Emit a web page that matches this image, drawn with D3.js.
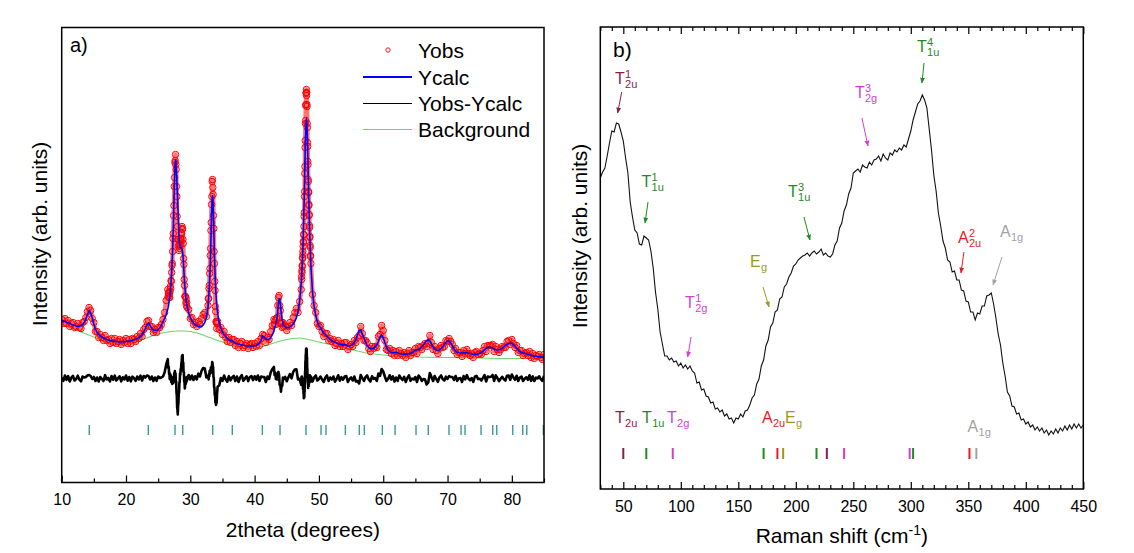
<!DOCTYPE html>
<html>
<head>
<meta charset="utf-8">
<script src="https://cdn.jsdelivr.net/npm/d3@7/dist/d3.min.js"></script>
<style>
html,body{margin:0;padding:0;background:#fff;}
svg{display:block;font-family:Arial,"Liberation Sans",Helvetica,sans-serif;}
</style>
</head>
<body>
<svg id="chart" width="1134" height="553"></svg>
<script>
// ================= DATA : panel a) XRD Rietveld refinement =================
// 2theta sampling: [start, end, step] (finer steps across the strong reflections)
const gridSegments = [[10,26.25,0.25],[26.5,29.45,0.05],[29.5,32.75,0.25],[32.8,34.15,0.05],[34.25,43,0.25],[43.1,44.5,0.1],[44.75,47.25,0.25],[47.3,48.7,0.025],[48.75,85,0.25]];

const yCalc = [
// 10.00 - 26.25
162,161.5,161,160.3,159.6,159,158.2,157.5,157,156.5,156.2,156.2,156.8,158,160,163.5,168,171.5,169.5,164.5,158.5,153.5,150,148,146.5,145.5,144.5,143.7,143,142.5,142,141.6,141.3,141.1,141,140.9,140.8,140.8,140.8,140.9,141,141.2,141.5,141.8,142.2,142.7,143.3,144,145,146.2,148,150.5,154,158,159.5,157,154,152.5,152,152.3,153,154.5,157,161,164,168,
// 26.50 - 29.45
173.7,175.1,176.8,178.6,180.6,182.9,185.4,188.4,191.7,195.5,199.8,204.7,210.4,216.9,224.4,233,242.7,253.5,265.4,278,290.6,302.6,312.6,319.5,322.8,321.4,315.9,310,303,295,287,279,270,261,253,246,241,238,236,234.5,234.5,234.5,234.5,234,233.5,232.5,230.5,227.5,223,218,212,206,200.5,196,192,188.5,185.5,183,180.5,178.5,
// 29.50 - 32.75
176.5,169.5,165,162,159.5,157.8,156.8,156.2,156,156.3,157.5,160,165,175,
// 32.80 - 34.15
181,185,189.5,195,201.5,209.5,218.5,229,241,253.5,266,277,284.5,287.5,284.5,276.5,265.5,253,240,228,217.5,208,200,193,187.5,182.5,178.5,175,
// 34.25 - 43.00
169,160,154.5,150.5,148,146,144.2,142.7,141.8,142,140.3,139.5,139,138.5,138,137.6,137.3,137,136.8,136.6,136.5,136.5,136.6,136.8,137.2,138,139.5,142,146.5,145.5,143.5,143,143.5,145,147.5,151.5,
// 43.1 - 44.5
154.4,156.1,158.4,161.6,166,171.8,178.4,183.3,183.5,178.7,172.2,166.5,162.2,159,156.9,
// 44.75 - 47.25
155.4,154.7,154.8,155.6,156.8,158.4,161,164.9,171,181.4,199.4,
// 47.300 - 48.700
204.2,207.1,210.1,213.5,217,220.7,224.8,229,233.6,238.5,243.6,249.2,255,261.2,267.8,274.5,281.6,289,296.5,304.3,312,319.8,327.4,334.7,341.4,347.4,352.9,357.2,360.4,362.3,363,362.5,360.8,358.1,354.6,350.2,345,339.2,333,326.4,319.5,312.4,305.3,298.2,291.3,284.4,277.8,271.4,265.2,259.3,253.3,248,242.9,238.1,233.5,229.2,225.1,
// 48.75 - 85.00
217,191,176,167,161,156.5,155,152,149.5,148,146,144.5,143,142,141,140.2,139.5,138.8,138.2,137.6,137.2,138,137.5,136.5,136.5,137,138,140,143,147.5,152,152.5,148.5,144.5,140.5,137,135,134,133.8,134.3,135.5,137.5,141,145.5,147.5,145,140,135.5,132.5,130.8,130,129.8,130,130,129.5,129,128.7,128.5,128.4,128.4,128.5,128.8,129.3,130,131,132.5,132.5,133,134,135.5,137.5,140,142,143,141.5,138.5,135.5,133.5,132.5,132.3,132.8,134,135.8,138,140.2,141.5,141.5,139.5,136.5,133.5,131.5,130.3,129.8,129.5,129.5,129.6,129.8,129.6,129.2,128.8,128.5,128.3,128.2,128.3,128.6,129.2,130,131.3,132.7,134,135,135.5,135.3,134.5,133.5,132.8,132.5,132.7,133.3,134.3,135.7,137,138.2,139,139.3,139,138,136.3,134.3,132.5,131,130,129.5,129.2,128.8,128.3,127.8,127.3,126.9,126.5,126.2,126,125.8,125.6,125.4,125.3
];

const yObs = [
// 10.00 - 26.25
163,159,164,159,162,156,159,160,155,156,159,155,154,160,161,165,171,175,172,164,160,151,151,145,148,145,142,147,142,143,139,144,140,144,139,141,143,138,142,140,144,139,143,139,144,143,141,146,144,149,146,153,155,161,162,156,156,150,153,150,155,155,158,163,170,182,
// 26.50 - 29.45
193,186,189,190,185,189,185,191,196,194,202,201,210,217,219,231,244,249,267,277,296,305,320,322,328,318,313,296,286,266,256,243,243,236,238,232,237,234,241,238,244,242,250,249,256,253,254,243,239,224,218,203,197,186,186,186,180,184,177,180,
// 29.50 - 32.75
175,173,164,165,158,160,156,161,158,164,168,170,166,177,
// 32.80 - 34.15
184,184,194,197,209,214,227,234,252,260,278,286,301,303,295,288,267,254,231,219,201,192,176,171,161,160,154,159,
// 34.25 - 43.00
161,153,155,148,151,145,141,145,140,143,143,137,141,135,139,141,135,137,139,134,138,139,135,139,136,141,137,144,148,147,140,145,143,151,157,163,
// 43.1 - 44.5
158,162,158,164,165,177,185,187,177,172,159,160,155,160,156,
// 44.75 - 47.25
157,152,156,160,157,165,170,174,170,181,193,
// 47.300 - 48.700
206,203,212,210,217,216,225,224,231,228,236,241,240,248,248,256,266,270,286,291,309,316,335,342,359,362,377,378,390,389,393,387,390,378,376,359,355,340,336,321,318,303,301,291,290,277,278,267,268,257,255,245,246,237,235,226,227,
// 48.75 - 85.00
219,188,177,170,159,156,157,151,146,149,149,142,144,141,143,137,139,142,136,139,136,140,140,133,136,138,136,142,140,145,147,156,149,142,142,140,134,131,136,134,136,135,146,148,157,152,142,133,132,134,129,132,127,131,127,132,129,127,130,125,129,132,127,130,130,134,129,136,135,133,137,139,136,139,147,140,133,136,132,129,134,137,135,136,142,141,144,141,138,132,134,128,130,130,126,132,129,133,129,127,129,125,130,131,128,129,128,132,136,131,137,137,137,138,131,136,133,130,133,136,135,135,141,142,138,143,139,135,137,130,132,132,127,129,130,127,131,125,129,124,127,126,128,125,123,128
];

const bgTheta = [10,11,12,13,14,15,16,17,18,19,20,21,22,23,24,25,26,27,28,29,30,31,32,33,34,35,36,37,38,39,40,41,42,43,44,45,46,47,48,49,50,51,52,53,54,55,56,57,58,60,62,65,70,75,80,85];
const bgValue = [158,155.5,153,150.5,148,145.5,143,140.5,139,138.5,138.5,139.5,141.5,144,146.5,148.5,150,151,151.5,151.5,151,149.5,147.5,145,142.5,140.5,138.5,136,134.5,133.5,134,135.5,137.5,139.5,141.5,143,144,144.5,143.5,142,140.5,139,137.5,136,134.5,133,131.5,130,129,127.5,126.5,125.5,125,124.5,124,124];

const braggPositions = [14.29,23.47,27.62,28.82,33.48,36.53,41.20,43.95,47.99,50.33,51.10,54.11,56.28,57.06,59.86,61.84,65.10,67.01,70.23,72.10,72.72,75.21,77.03,77.65,80.14,81.69,82.32,84.90];
const xTicksA = [10,20,30,40,50,60,70,80];
const xMinorA = [15,25,35,45,55,65,75,85];
const legendLabels = ["Yobs","Ycalc","Yobs-Ycalc","Background"];
const diffOffset = 104;   // vertical shift of the difference curve

// ================= DATA : panel b) Raman spectrum =================
const ramanStart = 30, ramanEnd = 450, ramanStep = 2;
const ramanIntensity = [
311,317,321,333,346,358,357,366,365,357,
348,331,316,287,272,259,256,245,244,253,
251,249,238,221,197,180,157,145,133,133,
129,131,127,128,123,126,121,124,120,123,
118,116,106,107,99,100,93,92,86,87,
80,81,77,79,73,75,70,71,66,71,
70,75,72,78,79,84,91,94,105,110,
123,129,143,149,162,166,177,179,190,192,
202,205,212,216,223,225,229,231,233,234,
236,233,236,238,235,237,240,234,236,233,
232,235,244,248,261,266,278,284,295,301,
316,318,320,317,324,322,321,327,324,329,
330,333,328,335,331,329,336,334,339,337,
341,339,344,342,350,358,369,377,385,388,
394,389,381,360,339,314,298,276,263,248,
241,229,227,217,218,209,209,199,198,188,
187,177,177,169,176,175,183,183,193,194,
196,185,171,155,144,126,113,97,93,83,
82,75,76,69,70,65,67,62,64,59,
62,58,61,56,59,54,58,55,60,56,
61,58,63,59,64,60,65,61,65,61,
64
];
const xTicksB = [50,100,150,200,250,300,350,400,450];
const modePositions = [50,70,93,172,184,189,218,227,242,299,302,351,357];
const modeOfPosition = ["T2u","T1u","T2g","T1u","A2u","Eg","T1u","T2u","T2g","T2g","T1u","A2u","A1g"];
const modeColors = {T2u:"#8a1c4e", T1u:"#1f8a24", T2g:"#d13fd0", A2u:"#e51d23", Eg:"#9a9a22", A1g:"#a2a2a2"};
// peak annotations: label (letter, superscript, subscript), text anchor and arrow (cm-1, intensity)
const peakLabels = [
  {mode:"T2u", main:"T", sup:"1", sub:"2u", x:42.8,  y:405, ax:48.6,  ay:397, bx:45.1,  by:376},
  {mode:"T1u", main:"T", sup:"1", sub:"1u", x:65.8,  y:302, ax:71.5,  ay:287, bx:68.9,  by:266},
  {mode:"T2g", main:"T", sup:"1", sub:"2g", x:103.7, y:181, ax:108.9, ay:152, bx:106.0, by:132},
  {mode:"Eg",  main:"E", sup:"",  sub:"g",  x:160.2, y:222, ax:171.5, ay:202, bx:176.7, by:182},
  {mode:"T1u", main:"T", sup:"3", sub:"1u", x:193.2, y:292, ax:207.1, ay:272, bx:212.3, by:249},
  {mode:"T2g", main:"T", sup:"3", sub:"2g", x:251.4, y:391, ax:257.5, ay:371, bx:262.8, by:343},
  {mode:"T1u", main:"T", sup:"4", sub:"1u", x:305.4, y:437, ax:311.5, ay:426, bx:309.7, by:406},
  {mode:"A2u", main:"A", sup:"2", sub:"2u", x:341.0, y:246, ax:346.2, ay:237, bx:343.6, by:216},
  {mode:"A1g", main:"A", sup:"",  sub:"1g", x:377.6, y:252, ax:379.3, ay:232, bx:371.5, by:204}
];
const modeKeyLabels = [
  {mode:"T2u", main:"T", sub:"2u", x:42.8,  y:66},
  {mode:"T1u", main:"T", sub:"1u", x:66.3,  y:66},
  {mode:"T2g", main:"T", sub:"2g", x:88.0,  y:66},
  {mode:"A2u", main:"A", sub:"2u", x:170.6, y:66},
  {mode:"Eg",  main:"E", sub:"g",  x:190.6, y:66},
  {mode:"A1g", main:"A", sub:"1g", x:349.4, y:57}
];

// ================= DRAWING =================
const svg = d3.select("#chart");
svg.append("rect").attr("width",1134).attr("height",553).attr("fill","#fff");

function buildGrid(segs){
  const out=[];
  segs.forEach(([a,b,s])=>{ const n=Math.round((b-a)/s); for(let i=0;i<=n;i++) out.push(+(a+i*s).toFixed(4)); });
  return out;
}

// ---------- panel a ----------
const xA = d3.scaleLinear().domain([10,85]).range([61.7,544]);
const yA = d3.scaleLinear().domain([0,455]).range([482.5,27.5]);
const gA = svg.append("g");
const defs = svg.append("defs");
defs.append("clipPath").attr("id","clipA").append("rect")
  .attr("x",xA(10)).attr("y",yA(455)).attr("width",xA(85)-xA(10)).attr("height",yA(0)-yA(455));

const twoTheta = buildGrid(gridSegments);
const N = Math.min(twoTheta.length, yObs.length, yCalc.length);
const xrd = d3.range(N).map(i=>({t:twoTheta[i], obs:yObs[i], calc:yCalc[i]}));
const bg = bgTheta.map((t,i)=>({t, v:bgValue[i]}));

const plotA = gA.append("g").attr("clip-path","url(#clipA)");
plotA.append("path").datum(bg)
  .attr("d", d3.line().x(d=>xA(d.t)).y(d=>yA(d.v)).curve(d3.curveMonotoneX))
  .attr("fill","none").attr("stroke","#6fd46f").attr("stroke-width",1.1);
// dense observed band (marker trail)
plotA.append("path").datum(xrd)
  .attr("d", d3.line().x(d=>xA(d.t)).y(d=>yA(d.obs)))
  .attr("fill","none").attr("stroke","#ff1a1a").attr("stroke-width",4.5).attr("stroke-opacity",0.6)
  .attr("stroke-linejoin","round");
plotA.append("g").selectAll("circle").data(xrd).join("circle")
  .attr("cx",d=>xA(d.t)).attr("cy",d=>yA(d.obs)).attr("r",3.2)
  .attr("fill","none").attr("stroke","#f00").attr("stroke-width",1);
plotA.append("path").datum(xrd)
  .attr("d", d3.line().x(d=>xA(d.t)).y(d=>yA(d.calc)))
  .attr("fill","none").attr("stroke","#0000ff").attr("stroke-width",1.6);
plotA.append("path").datum(xrd)
  .attr("d", d3.line().x(d=>xA(d.t)).y(d=>yA(d.obs - d.calc + diffOffset)))
  .attr("fill","none").attr("stroke","#000").attr("stroke-width",2.6).attr("stroke-linejoin","round");
plotA.append("g").selectAll("line").data(braggPositions).join("line")
  .attr("x1",d=>xA(d)).attr("x2",d=>xA(d)).attr("y1",yA(47.5)).attr("y2",yA(57.5))
  .attr("stroke","#3a9898").attr("stroke-width",1.4);

// axes a
const axA = gA.append("g").attr("transform",`translate(0,${yA(0)})`)
  .call(d3.axisBottom(xA).tickValues(xTicksA).tickSizeInner(-7).tickSizeOuter(0).tickPadding(11).tickFormat(d3.format("d")));
axA.select(".domain").remove();
axA.selectAll("text").attr("font-size",16).attr("font-family",null).attr("fill","#000");
axA.selectAll("line").attr("stroke","#000").attr("stroke-width",1.2);
const axAm = gA.append("g").attr("transform",`translate(0,${yA(0)})`)
  .call(d3.axisBottom(xA).tickValues(xMinorA).tickSizeInner(-4).tickSizeOuter(0).tickFormat(""));
axAm.select(".domain").remove();
axAm.selectAll("line").attr("stroke","#000").attr("stroke-width",1.2);
gA.append("rect").attr("x",xA(10)).attr("y",yA(455)).attr("width",xA(85)-xA(10)).attr("height",yA(0)-yA(455))
  .attr("fill","none").attr("stroke","#000").attr("stroke-width",1.5);
gA.append("text").attr("x",(xA(10)+xA(85))/2).attr("y",536.5).attr("text-anchor","middle").attr("font-size",21).text("2theta (degrees)");
gA.append("text").attr("transform","translate(46.5,234) rotate(-90)").attr("text-anchor","middle").attr("font-size",21).text("Intensity (arb. units)");
gA.append("text").attr("x",70).attr("y",52).attr("font-size",20).text("a)");

// legend a
const lg = gA.append("g");
const legY = [50,77,103.5,129.5];
lg.append("circle").attr("cx",388).attr("cy",legY[0]).attr("r",2.2).attr("fill","none").attr("stroke","#f00").attr("stroke-width",0.9);
lg.append("line").attr("x1",363).attr("x2",412).attr("y1",legY[1]).attr("y2",legY[1]).attr("stroke","#0000ff").attr("stroke-width",2);
lg.append("line").attr("x1",363).attr("x2",412).attr("y1",legY[2]).attr("y2",legY[2]).attr("stroke","#000").attr("stroke-width",1.1);
lg.append("line").attr("x1",363).attr("x2",412).attr("y1",legY[3]).attr("y2",legY[3]).attr("stroke","#6fd46f").attr("stroke-width",1.1);
legendLabels.forEach((l,i)=>{
  lg.append("text").attr("x",418).attr("y",legY[i]+7.8).attr("font-size",21).text(l);
});

// ---------- panel b ----------
const xB = d3.scaleLinear().domain([30,450]).range([600.3,1083.3]);
const yB = d3.scaleLinear().domain([0,462]).range([489,27]);
const gB = svg.append("g");
defs.append("clipPath").attr("id","clipB").append("rect")
  .attr("x",xB(30)).attr("y",yB(462)).attr("width",xB(450)-xB(30)).attr("height",yB(0)-yB(462));
const ramanShift = d3.range(ramanStart, ramanEnd + 0.5, ramanStep);
const raman = ramanShift.map((s,i)=>({s, v:ramanIntensity[i]})).filter(d=>d.v!==undefined);
const plotB = gB.append("g").attr("clip-path","url(#clipB)");
plotB.append("path").datum(raman)
  .attr("d", d3.line().x(d=>xB(d.s)).y(d=>yB(d.v)))
  .attr("fill","none").attr("stroke","#111").attr("stroke-width",1.1);

// mode position ticks
plotB.append("g").selectAll("line").data(modePositions).join("line")
  .attr("x1",d=>xB(d)).attr("x2",d=>xB(d)).attr("y1",yB(30)).attr("y2",yB(41))
  .attr("stroke",(d,i)=>modeColors[modeOfPosition[i]]).attr("stroke-width",2);

// arrow markers
Object.entries(modeColors).forEach(([k,c])=>{
  defs.append("marker").attr("id","arr-"+k).attr("viewBox","0 0 10 10").attr("refX",9).attr("refY",5)
    .attr("markerWidth",6).attr("markerHeight",6).attr("markerUnits","userSpaceOnUse").attr("orient","auto")
    .append("path").attr("d","M0,1 L10,5 L0,9 z").attr("fill",c);
});

function scriptLabel(g, x, y, main, sup, sub, color, fsMain, fsScript, supDy, subDy){
  const t = g.append("text").attr("x",x).attr("y",y).attr("font-size",fsMain).attr("fill",color).text(main);
  const w = t.node().getComputedTextLength();
  if (sup) g.append("text").attr("x",x+w+0.3).attr("y",y-supDy).attr("font-size",fsScript).attr("fill",color).text(sup);
  if (sub) g.append("text").attr("x",x+w+0.3).attr("y",y+subDy).attr("font-size",fsScript).attr("fill",color).text(sub);
}
const annG = gB.append("g");
peakLabels.forEach(p=>{
  const c = modeColors[p.mode];
  scriptLabel(annG, xB(p.x), yB(p.y), p.main, p.sup, p.sub, c, 16, 11, 6.5, 3.6);
  annG.append("line").attr("x1",xB(p.ax)).attr("y1",yB(p.ay)).attr("x2",xB(p.bx)).attr("y2",yB(p.by))
    .attr("stroke",c).attr("stroke-width",1).attr("marker-end",`url(#arr-${p.mode})`);
});
modeKeyLabels.forEach(p=>{
  scriptLabel(annG, xB(p.x), yB(p.y), p.main, "", p.sub, modeColors[p.mode], 16, 11, 0, 4);
});

// axes b
const majorB = xTicksB;
const minorB = d3.range(30,451,10).filter(v=>v%50!==0);
function bAxis(gen, y, vals, size, labels){
  const a = gB.append("g").attr("transform",`translate(0,${y})`)
    .call(gen(xB).tickValues(vals).tickSizeInner(-size).tickSizeOuter(0).tickPadding(11.6).tickFormat(labels?d3.format("d"):""));
  a.select(".domain").remove();
  a.selectAll("line").attr("stroke","#000").attr("stroke-width",1.2);
  a.selectAll("text").attr("font-size",16).attr("font-family",null).attr("fill","#000");
}
bAxis(d3.axisBottom, yB(0), majorB, 7, true);
bAxis(d3.axisBottom, yB(0), minorB, 4, false);
bAxis(d3.axisTop, yB(462), majorB, 7, false);
bAxis(d3.axisTop, yB(462), minorB, 4, false);
gB.append("rect").attr("x",xB(30)).attr("y",yB(462)).attr("width",xB(450)-xB(30)).attr("height",yB(0)-yB(462))
  .attr("fill","none").attr("stroke","#000").attr("stroke-width",1.5);
const tB = gB.append("text").attr("x",(xB(30)+xB(450))/2).attr("y",543).attr("text-anchor","middle").attr("font-size",21);
tB.append("tspan").text("Raman shift (cm");
tB.append("tspan").attr("font-size",14).attr("dy",-8).text("-1");
tB.append("tspan").attr("dy",8).text(")");
gB.append("text").attr("transform","translate(586.5,236) rotate(-90)").attr("text-anchor","middle").attr("font-size",21).text("Intensity (arb. units)");
gB.append("text").attr("x",613).attr("y",57).attr("font-size",21).text("b)");
</script>
</body>
</html>
